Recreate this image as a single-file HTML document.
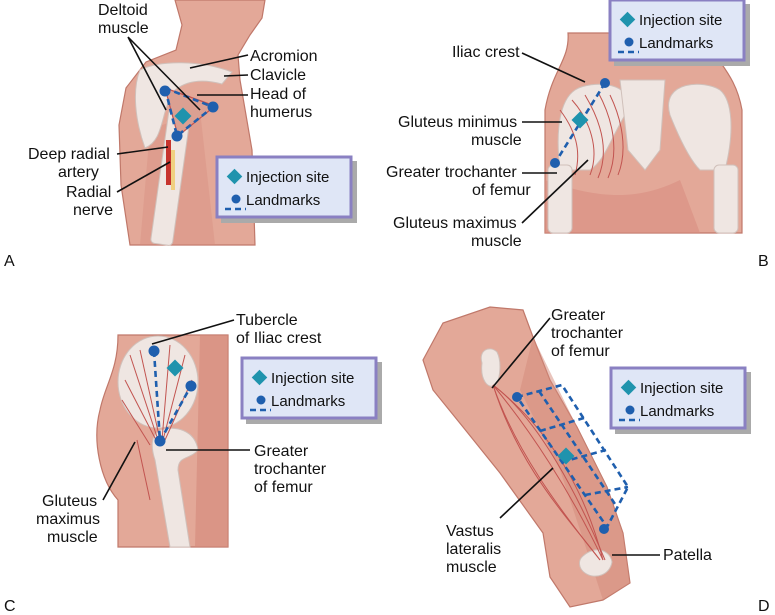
<!DOCTYPE html>
<html><head><meta charset="utf-8"><style>
body{margin:0;background:#fff}
svg{display:block}
text{font-family:"Liberation Sans",Arial,sans-serif;font-size:15px;fill:#111}
.lbl{font-size:16px}
.ln{stroke:#111;stroke-width:1.6;fill:none}
.dash{stroke:#1f5fae;stroke-width:2.6;stroke-dasharray:6 4;fill:none}
.dot{fill:#1f5fae}
.dia{fill:#1f93ad}
.skin{fill:#e3a898;stroke:#c0786a;stroke-width:1.2}
.skin2{fill:#d4897a}
.bone{fill:#efe6e2;stroke:#d0c0ba;stroke-width:1}
.mus{stroke:#c25450;stroke-width:1;fill:none}
</style></head><body>
<svg width="775" height="615" viewBox="0 0 775 615" xmlns="http://www.w3.org/2000/svg">
<defs>
<g id="leg">
<rect x="4" y="4" width="136" height="62" fill="#aaa"/>
<rect x="0" y="0" width="134" height="60" fill="#dfe6f6" stroke="#8a80c2" stroke-width="3"/>
<rect x="12" y="14" width="11" height="11" transform="rotate(45 17.5 19.5)" class="dia"/>
<text x="29" y="25">Injection site</text>
<circle cx="19" cy="42" r="4.5" class="dot"/>
<line x1="8" y1="52" x2="29" y2="52" class="dash" stroke-width="2.2" stroke-dasharray="5 3"/>
<text x="29" y="48">Landmarks</text>
</g>
</defs>

<!-- Panel A -->
<path class="skin" d="M175,0 L265,0 L262,18 L250,35 L238,55 L240,80 L246,115 L252,150 L255,245 L130,245 L121,185 L119,125 L126,88 L146,62 L176,50 L182,25 Z"/>
<path class="skin2" d="M150,130 L200,110 L215,245 L140,245 Z" opacity="0.35"/>
<path class="bone" d="M140,70 C160,60 200,60 232,72 L222,84 C200,78 185,82 175,90 C160,110 165,140 145,148 C135,120 132,90 140,70 Z"/>
<rect x="160" y="110" width="22" height="135" rx="4" transform="rotate(8 171 175)" class="bone"/>
<path d="M165,88 L215,106 L178,136 Z" fill="#dba092" stroke="#c25450" stroke-width="1.2"/>
<rect x="166" y="140" width="5" height="45" fill="#c7342e"/>
<rect x="171" y="150" width="4" height="40" fill="#f0d080"/>
<path class="dash" d="M165,88 L213,107 L177,136 Z"/>
<circle cx="165" cy="91" r="5.5" class="dot"/><circle cx="213" cy="107" r="5.5" class="dot"/><circle cx="177" cy="136" r="5.5" class="dot"/>
<rect x="177" y="110" width="12" height="12" transform="rotate(45 183 116)" class="dia"/>
<text x="98" y="15" class="lbl">Deltoid</text><text x="98" y="33" class="lbl">muscle</text>
<path class="ln" d="M128,37 L166,110 M128,37 L200,110"/>
<text x="250" y="61" class="lbl">Acromion</text><path class="ln" d="M190,68 L248,55"/>
<text x="250" y="80" class="lbl">Clavicle</text><path class="ln" d="M224,76 L248,75"/>
<text x="250" y="99" class="lbl">Head of</text><text x="250" y="117" class="lbl">humerus</text><path class="ln" d="M197,95 L248,95"/>
<text x="28" y="159" class="lbl">Deep radial</text><text x="58" y="177" class="lbl">artery</text>
<path class="ln" d="M117,154 L168,147"/>
<text x="66" y="197" class="lbl">Radial</text><text x="73" y="215" class="lbl">nerve</text>
<path class="ln" d="M117,192 L170,162"/>
<use href="#leg" x="217" y="157"/>
<text x="4" y="266" class="lbl">A</text>

<!-- Panel B -->
<path class="skin" d="M568,33 L705,33 C712,60 735,70 742,110 L742,233 L545,233 L545,110 C552,70 570,60 568,33 Z"/>
<path d="M545,180 C600,200 640,200 680,180 L700,233 L545,233 Z" fill="#d98e80" opacity="0.6"/>
<path class="bone" d="M575,90 C590,80 640,80 625,115 C610,140 605,160 590,170 L560,170 C555,130 560,100 575,90 Z"/>
<path class="bone" d="M720,90 C705,80 660,80 670,115 C680,140 690,160 700,170 L725,170 C735,130 732,100 720,90 Z"/>
<path class="bone" d="M620,80 L665,80 L660,150 L645,170 L628,150 Z"/>
<rect x="548" y="165" width="24" height="68" rx="5" class="bone"/>
<rect x="714" y="165" width="24" height="68" rx="5" class="bone"/>
<g class="mus"><path d="M572,100 C590,120 600,150 590,175"/><path d="M585,95 C600,120 610,150 598,178"/><path d="M598,92 C612,118 620,150 608,178"/><path d="M560,110 C575,130 582,150 575,175"/><path d="M610,95 C622,120 628,150 618,175"/></g>
<path class="dash" d="M605,83 L555,163"/>
<circle cx="605" cy="83" r="5" class="dot"/><circle cx="555" cy="163" r="5" class="dot"/>
<rect x="574" y="114" width="12" height="12" transform="rotate(45 580 120)" class="dia"/>
<text x="452" y="57" class="lbl">Iliac crest</text><path class="ln" d="M522,53 L585,82"/>
<text x="398" y="127" class="lbl">Gluteus minimus</text><text x="471" y="145" class="lbl">muscle</text><path class="ln" d="M522,122 L562,122"/>
<text x="386" y="177" class="lbl">Greater trochanter</text><text x="472" y="195" class="lbl">of femur</text><path class="ln" d="M522,173 L557,173"/>
<text x="393" y="228" class="lbl">Gluteus maximus</text><text x="471" y="246" class="lbl">muscle</text><path class="ln" d="M522,223 L588,160"/>
<use href="#leg" x="610" y="0"/>
<text x="758" y="266" class="lbl">B</text>

<!-- Panel C -->
<path class="skin" d="M118,335 L228,335 L228,547 L118,547 L118,500 C100,480 92,440 100,410 C105,385 118,370 118,335 Z"/>
<path d="M200,335 L228,335 L228,547 L195,547 Z" fill="#d4897a" opacity="0.6"/>
<ellipse cx="158" cy="382" rx="40" ry="46" class="bone"/>
<path class="bone" d="M160,430 C175,425 195,430 198,450 C190,460 178,455 178,470 L190,547 L170,547 L155,460 C150,445 152,435 160,430 Z"/>
<g class="mus"><path d="M130,355 L158,440"/><path d="M140,350 L160,440"/><path d="M170,345 L162,440"/><path d="M185,355 L163,440"/><path d="M125,380 L156,440"/><path d="M192,380 L165,440"/><path d="M122,400 L150,445"/><path d="M137,440 L150,500"/></g>
<path class="dash" d="M154,351 L160,441 L191,386"/>
<circle cx="154" cy="351" r="5.5" class="dot"/><circle cx="191" cy="386" r="5.5" class="dot"/><circle cx="160" cy="441" r="5.5" class="dot"/>
<rect x="169" y="362" width="12" height="12" transform="rotate(45 175 368)" class="dia"/>
<text x="236" y="325" class="lbl">Tubercle</text><text x="236" y="343" class="lbl">of Iliac crest</text>
<path class="ln" d="M152,344 L234,320"/>
<text x="254" y="456" class="lbl">Greater</text><text x="254" y="474" class="lbl">trochanter</text><text x="254" y="492" class="lbl">of femur</text>
<path class="ln" d="M166,450 L250,450"/>
<text x="42" y="506" class="lbl">Gluteus</text><text x="36" y="524" class="lbl">maximus</text><text x="47" y="542" class="lbl">muscle</text>
<path class="ln" d="M103,500 L135,442"/>
<use href="#leg" x="242" y="358"/>
<text x="4" y="611" class="lbl">C</text>

<!-- Panel D -->
<path class="skin" d="M423,360 L443,323 L490,307 L523,310 L533,337 L550,380 L577,427 L607,487 L623,533 L630,583 L603,600 L570,607 L550,577 L543,533 L500,473 L463,427 L433,390 Z"/>
<path d="M533,337 L577,427 L607,487 L623,533 L630,583 L603,600 L590,560 L560,470 L520,390 Z" fill="#d4897a" opacity="0.5"/>
<path class="bone" d="M482,363 C478,350 490,345 497,352 C502,362 500,378 496,385 C488,390 480,380 482,363 Z"/>
<path class="bone" d="M583,556 C595,545 610,550 612,562 C610,575 595,580 585,573 C578,568 578,560 583,556 Z"/>
<g class="mus"><path d="M493,385 C530,430 570,490 603,560"/><path d="M493,385 C515,450 560,510 600,560"/><path d="M493,385 C540,420 580,500 605,560"/><path d="M493,385 C520,470 570,520 600,560"/><path d="M493,385 C550,430 585,490 603,560"/></g>
<g class="dash" stroke-width="2" stroke-dasharray="5 3">
<path d="M517,397 L562,385 L628,487 L607,527 Z"/>
<path d="M539,391 L617,507"/>
<path d="M540,431 L584,418"/>
<path d="M562,462 L606,450"/>
<path d="M585,495 L628,487"/>
</g>
<circle cx="517" cy="397" r="5" class="dot"/><circle cx="604" cy="529" r="5" class="dot"/>
<rect x="560" y="450" width="12" height="12" transform="rotate(45 566 456)" class="dia"/>
<text x="551" y="320" class="lbl">Greater</text><text x="551" y="338" class="lbl">trochanter</text><text x="551" y="356" class="lbl">of femur</text>
<path class="ln" d="M550,318 L492,388"/>
<use href="#leg" x="611" y="368"/>
<text x="446" y="536" class="lbl">Vastus</text><text x="446" y="554" class="lbl">lateralis</text><text x="446" y="572" class="lbl">muscle</text>
<path class="ln" d="M500,518 L553,468"/>
<text x="663" y="560" class="lbl">Patella</text><path class="ln" d="M612,555 L660,555"/>
<text x="758" y="611" class="lbl">D</text>
</svg>
</body></html>
